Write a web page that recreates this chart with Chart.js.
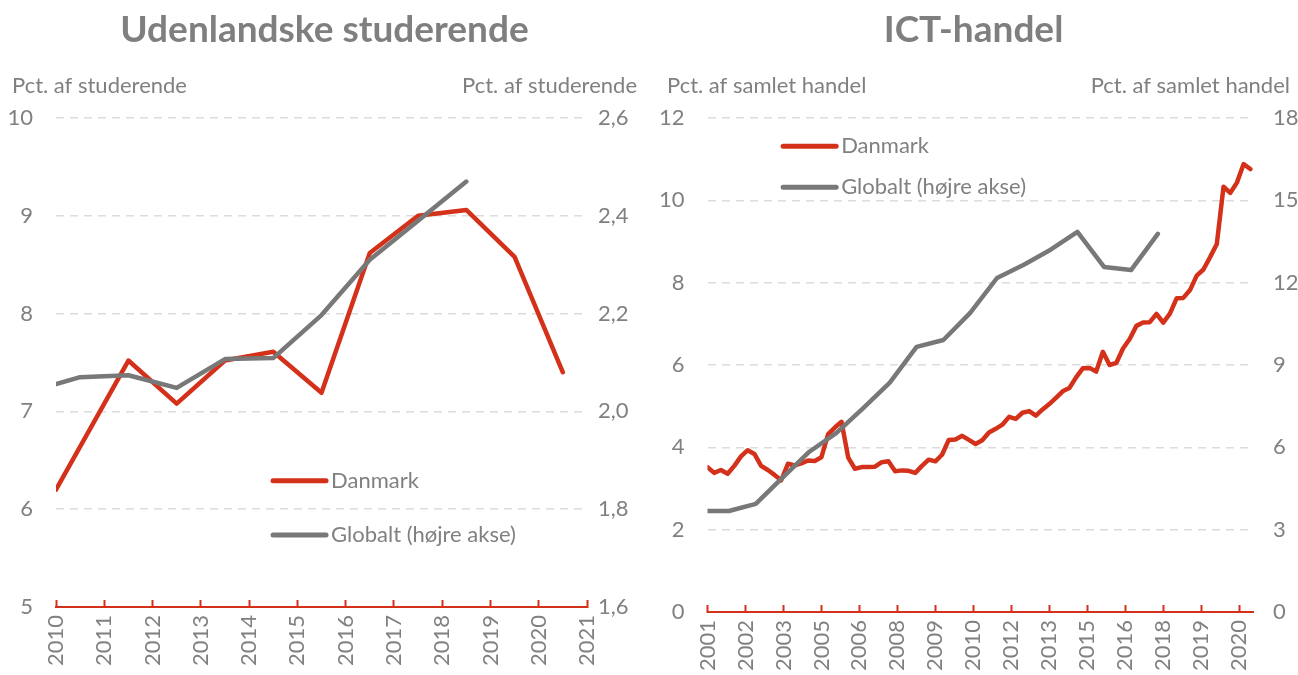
<!DOCTYPE html>
<html>
<head>
<meta charset="utf-8">
<script src="https://cdn.jsdelivr.net/npm/chart.js@4.4.1/dist/chart.umd.min.js"></script>
<style>
body { margin: 0; background: #fff; }
.wrap { display: flex; }
canvas { display: block; }
</style>
</head>
<body>
<div class="wrap">
	<canvas id="studChart" width="649" height="675"></canvas>
	<canvas id="ictChart" width="649" height="675"></canvas>
</div>
<script>
// Udenlandske studerende (aarlige tal)
const studDkYears = [2010, 2011.5, 2012.5, 2013.5, 2014.5, 2015.5, 2016.5, 2017.5, 2018.5, 2019.5, 2020.5];
const studDk = [6.2, 7.52, 7.08, 7.52, 7.61, 7.19, 8.62, 9.0, 9.06, 8.58, 7.4];
const studGlobalYears = [2010, 2010.5, 2011.5, 2012.5, 2013.5, 2014.5, 2015.5, 2016.5, 2017.5, 2018.5];
const studGlobal = [2.056, 2.07, 2.074, 2.048, 2.107, 2.109, 2.197, 2.31, 2.39, 2.47];
const studTickLabels = ["2010", "2011", "2012", "2013", "2014", "2015", "2016", "2017", "2018", "2019", "2020", "2021"];
const studLeftTicks = [5, 6, 7, 8, 9, 10];
const studRightTicks = [1.6, 1.8, 2.0, 2.2, 2.4, 2.6];

// ICT-handel (kvartalstal for Danmark fra 2001K1, aarlige globale tal)
const ictStart = 2001;
const ictDk = [
	3.52, 3.38, 3.45, 3.36, 3.55, 3.78, 3.93, 3.84, 3.55, 3.45,
	3.33, 3.2, 3.6, 3.56, 3.61, 3.68, 3.67, 3.76, 4.32, 4.48,
	4.62, 3.75, 3.48, 3.52, 3.52, 3.53, 3.64, 3.66, 3.42, 3.44,
	3.43, 3.38, 3.55, 3.7, 3.66, 3.82, 4.18, 4.19, 4.28, 4.18,
	4.08, 4.17, 4.36, 4.45, 4.55, 4.74, 4.69, 4.84, 4.88, 4.77,
	4.92, 5.05, 5.2, 5.36, 5.44, 5.7, 5.92, 5.93, 5.84, 6.32,
	6.0, 6.05, 6.4, 6.63, 6.95, 7.03, 7.04, 7.24, 7.03, 7.25,
	7.62, 7.63, 7.82, 8.17, 8.32, 8.62, 8.94, 10.33, 10.18, 10.43,
	10.88, 10.76,
];
const ictGlobalYears = [2001.0, 2001.8, 2002.8, 2003.8, 2004.8, 2005.8, 2006.8, 2007.8, 2008.8, 2009.8, 2010.8, 2011.8, 2012.8, 2013.8, 2014.8, 2015.8, 2016.8, 2017.8];
const ictGlobal = [3.68, 3.68, 3.94, 4.9, 5.84, 6.52, 7.42, 8.36, 9.66, 9.91, 10.9, 12.17, 12.65, 13.2, 13.85, 12.57, 12.46, 13.78];
const ictTickLabels = ["2001", "2002", "2003", "2005", "2006", "2008", "2009", "2010", "2012", "2013", "2015", "2016", "2018", "2019", "2020"];
const ictLeftTicks = [0, 2, 4, 6, 8, 10, 12];
const ictRightTicks = [0, 3, 6, 9, 12, 15, 18];

const red = "#d4311a";
const grey = "#787878";
const textGrey = "#808080";
const gridGrey = "#dcdcdc";
const font = { family: "Lato", size: 22 };

function toPoints(xs, ys) {
	return xs.map((x, i) => ({ x: x, y: ys[i] }));
}

// tekst over akserne, venstre og hoejre
const axisTitles = {
	id: "axisTitles",
	afterDraw(chart, args, opts) {
		const ctx = chart.ctx;
		ctx.save();
		ctx.font = "22px Lato";
		ctx.fillStyle = textGrey;
		ctx.textBaseline = "middle";
		ctx.textAlign = "left";
		ctx.fillText(opts.left, opts.leftInset, opts.y);
		ctx.textAlign = "right";
		ctx.fillText(opts.right, chart.width - opts.rightInset, opts.y);
		ctx.restore();
	},
};

// legende inde i plotomraadet
const insideLegend = {
	id: "insideLegend",
	afterDatasetsDraw(chart, args, opts) {
		const ctx = chart.ctx;
		const a = chart.chartArea;
		const x = a.left + opts.x * (a.right - a.left);
		ctx.save();
		ctx.font = "22px Lato";
		ctx.textBaseline = "middle";
		chart.data.datasets.forEach((ds, i) => {
			const y = a.top + opts.y[i] * (a.bottom - a.top);
			ctx.strokeStyle = ds.borderColor;
			ctx.lineWidth = 5;
			ctx.lineCap = "round";
			ctx.beginPath();
			ctx.moveTo(x + 2, y);
			ctx.lineTo(x + 55, y);
			ctx.stroke();
			ctx.fillStyle = textGrey;
			ctx.textAlign = "left";
			ctx.fillText(ds.label, x + 60, y);
		});
		ctx.restore();
	},
};

function lineSet(label, data, color, axis, order) {
	return {
		label: label,
		data: data,
		borderColor: color,
		backgroundColor: color,
		borderWidth: 4.5,
		pointRadius: 0,
		tension: 0,
		borderJoinStyle: "round",
		borderCapStyle: "round",
		yAxisID: axis,
		order: order,
	};
}

function xScale(min, max, positions, labels, height) {
	return {
		type: "linear",
		min: min,
		max: max,
		afterBuildTicks: (s) => {
			s.ticks = positions.map((v) => ({ value: v }));
		},
		afterFit: (s) => {
			s.height = height;
		},
		ticks: {
			autoSkip: false,
			minRotation: 90,
			maxRotation: 90,
			padding: 15,
			color: textGrey,
			font: font,
			callback: (value, index) => labels[index],
		},
		grid: {
			drawOnChartArea: false,
			drawTicks: true,
			tickLength: -7,
			tickColor: red,
			tickWidth: 2,
		},
		border: { display: true, color: red, width: 2 },
	};
}

function yScale(side, ticks, fmt, width, padding, showGrid) {
	return {
		type: "linear",
		position: side,
		min: ticks[0],
		max: ticks[ticks.length - 1],
		afterBuildTicks: (s) => {
			s.ticks = ticks.map((v) => ({ value: v }));
		},
		afterFit: (s) => {
			s.width = width;
		},
		ticks: {
			padding: padding,
			color: textGrey,
			font: font,
			callback: fmt,
		},
		grid: {
			display: showGrid,
			drawTicks: false,
			lineWidth: 1.5,
			color: (c) => (c.tick && c.tick.value === ticks[0] ? "transparent" : gridGrey),
		},
		border: { display: false, dash: [8, 6] },
	};
}

function titleOpts(text) {
	return {
		display: true,
		text: text,
		color: "#7f7f7f",
		font: { family: "Lato", size: 37, weight: "bold" },
		padding: { top: 8, bottom: 65.6 },
	};
}

new Chart(document.getElementById("studChart"), {
	type: "line",
	data: {
		datasets: [
			lineSet("Danmark", toPoints(studDkYears, studDk), red, "y", 2),
			lineSet("Globalt (højre akse)", toPoints(studGlobalYears, studGlobal), grey, "y2", 1),
		],
	},
	options: {
		responsive: false,
		animation: false,
		layout: { padding: 0 },
		scales: {
			x: xScale(2010, 2021, studTickLabels.map(Number), studTickLabels, 68),
			y: yScale("left", studLeftTicks, (v) => String(v), 56, 23, true),
			y2: yScale("right", studRightTicks, (v) => v.toFixed(1).replace(".", ","), 62, 11, false),
		},
		plugins: {
			legend: { display: false },
			tooltip: { enabled: false },
			title: titleOpts("Udenlandske studerende"),
			axisTitles: { left: "Pct. af studerende", right: "Pct. af studerende", leftInset: 12, rightInset: 12, y: 86 },
			insideLegend: { x: 0.405, y: [0.742, 0.853] },
		},
	},
	plugins: [axisTitles, insideLegend],
});

new Chart(document.getElementById("ictChart"), {
	type: "line",
	data: {
		datasets: [
			lineSet("Danmark", toPoints(ictDk.map((v, i) => ictStart + i / 4), ictDk), red, "y", 2),
			lineSet("Globalt (højre akse)", toPoints(ictGlobalYears, ictGlobal), grey, "y2", 1),
		],
	},
	options: {
		responsive: false,
		animation: false,
		layout: { padding: 0 },
		scales: {
			x: xScale(2001, 2021.35, ictTickLabels.map((l, i) => ictStart + (i * 17) / 12), ictTickLabels, 63),
			y: yScale("left", ictLeftTicks, (v) => String(v), 58.5, 23, true),
			y2: yScale("right", ictRightTicks, (v) => String(v), 45, 20, false),
		},
		plugins: {
			legend: { display: false },
			tooltip: { enabled: false },
			title: titleOpts("ICT-handel"),
			axisTitles: { left: "Pct. af samlet handel", right: "Pct. af samlet handel", leftInset: 18, rightInset: 8, y: 86 },
			insideLegend: { x: 0.135, y: [0.057, 0.14] },
		},
	},
	plugins: [axisTitles, insideLegend],
});
</script>
</body>
</html>
